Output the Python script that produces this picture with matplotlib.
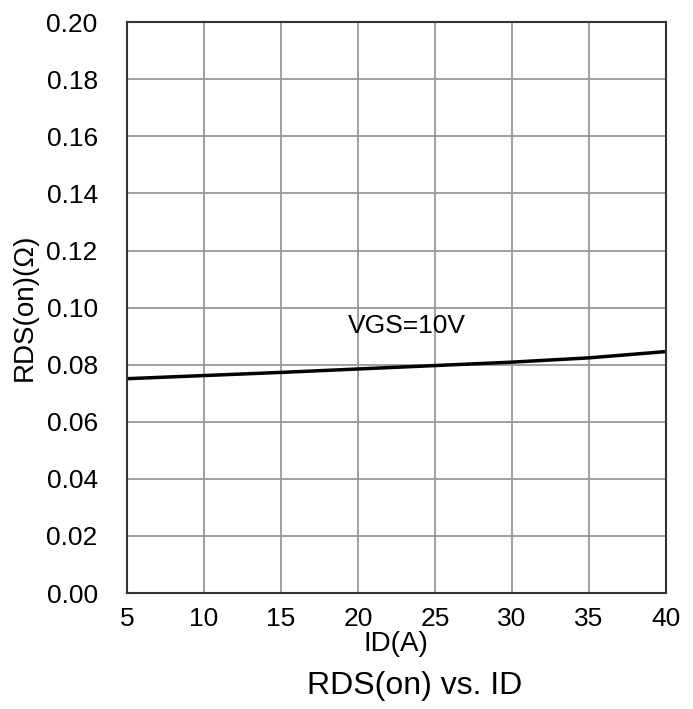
import matplotlib
matplotlib.use("Agg")
import matplotlib.pyplot as plt

# Datos
id_a = [5, 10, 15, 20, 25, 30, 35, 40]
rds_on = [0.0751, 0.0762, 0.0773, 0.0785, 0.0797, 0.0809, 0.0824, 0.0846]
x_ticks = [5, 10, 15, 20, 25, 30, 35, 40]
y_ticks = [0.00, 0.02, 0.04, 0.06, 0.08, 0.10, 0.12, 0.14, 0.16, 0.18, 0.20]

plt.rcParams['font.family'] = ['Liberation Sans', 'DejaVu Sans']

fig = plt.figure(figsize=(6.93, 7.09), dpi=100)
ax = fig.add_axes([0.183, 0.1636, 0.778, 0.805])

ax.plot(id_a, rds_on, color="black", linewidth=2.5)
ax.text(23.2, 0.0935, "VGS=10V", fontsize=19, ha="center", va="center")

ax.set_xlim(5, 40)
ax.set_ylim(0, 0.20)
ax.set_xticks(x_ticks)
ax.set_yticks(y_ticks)
ax.set_yticklabels([f"{v:.2f}" for v in y_ticks])
ax.tick_params(length=0, labelsize=19)
ax.tick_params(axis="x", pad=10)
ax.tick_params(axis="y", pad=21)
ax.grid(True, color="#999999", linewidth=1.3)
for s in ax.spines.values():
    s.set_color("#333333")
    s.set_linewidth(1.5)

ax.set_xlabel("ID(A)", fontsize=20, labelpad=0)
ax.set_ylabel("RDS(on)(Ω)", fontsize=20, labelpad=6)
fig.text(0.599, 0.033, "RDS(on) vs. ID", fontsize=23, ha="center", va="center")

plt.savefig("out.png", dpi=100)
